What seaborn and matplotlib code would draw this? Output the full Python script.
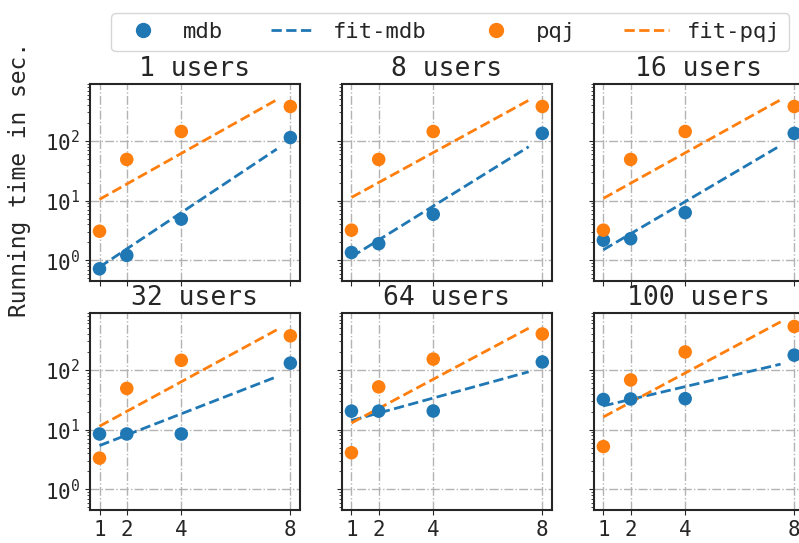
import numpy as np
import pandas as pd
import seaborn as sns
import matplotlib.pyplot as plt

# values
users = [1, 8, 16, 32, 64, 100]
nodes = [1, 2, 4, 8]

mdb = {
    1: [0.72, 1.21, 4.9, 114],
    8: [1.35, 1.9, 5.9, 134],
    16: [2.17, 2.3, 6.3, 134],
    32: [8.45, 8.45, 8.45, 130],
    64: [20.4, 20.4, 20.5, 136],
    100: [32, 32.6, 33, 177],
}
pqj = {
    1: [3.07, 49, 144, 378],
    8: [3.2, 49, 144, 378],
    16: [3.2, 49, 144, 378],
    32: [3.33, 49, 145, 373],
    64: [4.1, 52, 152, 400],
    100: [5.2, 68, 200, 535],
}

# fitted lines, start/end values (x from 1 to 7.5)
fit_x = [1, 7.5]
fit_mdb = {
    1: [0.77, 73],
    8: [1.14, 80],
    16: [1.5, 84],
    32: [5.4, 77],
    64: [14.2, 93],
    100: [25, 125],
}
fit_pqj = {
    1: [10.5, 490],
    8: [11.3, 480],
    16: [10.9, 490],
    32: [11.4, 470],
    64: [12.9, 500],
    100: [16.3, 640],
}

sns.set_style('ticks')
plt.rcParams['font.family'] = ['DejaVu Sans Mono', 'DejaVu Sans']
plt.rcParams['font.size'] = 15

blue, orange = sns.color_palette('tab10')[:2]

fig, axes = plt.subplots(2, 3, figsize=(7.99, 5.43), dpi=100, sharex=True, sharey=True)
fig.subplots_adjust(left=0.1126, right=1.006, top=0.8453, bottom=0.0608, wspace=0.2, hspace=0.1624)

for ax, u in zip(axes.flat, users):
    pts = pd.DataFrame({'nodes': nodes * 2,
                        'time': mdb[u] + pqj[u],
                        'system': ['mdb'] * 4 + ['pqj'] * 4})
    fits = pd.DataFrame({'nodes': fit_x * 2,
                         'time': fit_mdb[u] + fit_pqj[u],
                         'system': ['fit-mdb'] * 2 + ['fit-pqj'] * 2})
    sns.scatterplot(data=pts, x='nodes', y='time', hue='system', palette=[blue, orange],
                    s=95, edgecolor='none', ax=ax, legend=False, zorder=3)
    sns.lineplot(data=fits, x='nodes', y='time', hue='system', palette=[blue, orange],
                 linestyle='--', linewidth=2, ax=ax, legend=False, zorder=2)
    ax.set_yscale('log')
    ax.set_title(str(u) + ' users', fontsize=19)
    ax.set_xlabel('')
    ax.set_ylabel('')
    ax.tick_params(labelsize=15)
    ax.grid(True, which='major', linestyle='-.', color='0.7', linewidth=1)
    for sp in ax.spines.values():
        sp.set_linewidth(1.5)
        sp.set_color('0.15')

axes[0, 0].set_xticks(nodes)
axes[0, 0].set_xticklabels([str(n) for n in nodes])
axes[0, 0].set_xlim(0.65, 8.35)
axes[0, 0].set_ylim(0.45, 900)

fig.text(0.025, 0.67, 'Running time in sec.', rotation=90, ha='center', va='center', fontsize=16.5)

handles = [
    plt.Line2D([], [], marker='o', linestyle='', color=blue, markersize=10),
    plt.Line2D([], [], linestyle='--', color=blue, linewidth=2),
    plt.Line2D([], [], marker='o', linestyle='', color=orange, markersize=10),
    plt.Line2D([], [], linestyle='--', color=orange, linewidth=2),
]
fig.legend(handles, ['mdb', 'fit-mdb', 'pqj', 'fit-pqj'], loc='upper center',
           bbox_to_anchor=(0.5635, 0.996), ncol=4, fontsize=16, columnspacing=2.15)

fig.savefig('out.png', dpi=100)
